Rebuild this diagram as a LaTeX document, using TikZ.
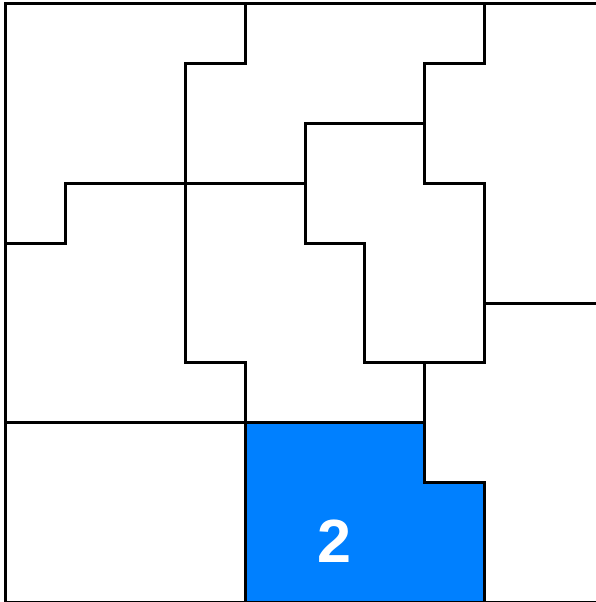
\documentclass[tikz,border=0pt]{standalone}
\usepackage{fontspec}
\setsansfont{Liberation Sans}
\definecolor{regionblue}{RGB}{0,128,255}
\begin{document}
\begin{tikzpicture}[x=59.8pt,y=-59.8pt,line width=3pt,line join=miter]
  \useasboundingbox (-0.1003,-0.0669) rectangle (9.866,10);
  \clip (-0.1003,-0.0669) rectangle (9.866,10);
  % highlighted region
  \fill[regionblue] (4,7) -- (7,7) -- (7,8) -- (8,8) -- (8,10) -- (4,10) -- cycle;
  % outer frame
  \draw (10,0) -- (0,0) -- (0,10) -- (10,10);
  % region borders
  \draw (4,0) -- (4,1) -- (3,1) -- (3,6) -- (4,6) -- (4,10);
  \draw (8,0) -- (8,1) -- (7,1) -- (7,3) -- (8,3) -- (8,6) -- (6,6) -- (6,4)
    -- (5,4) -- (5,2) -- (7,2);
  \draw (0,4) -- (1,4) -- (1,3) -- (5,3);
  \draw (8,5) -- (10,5);
  \draw (0,7) -- (7,7);
  \draw (7,6) -- (7,8) -- (8,8) -- (8,10);
  \node[white,font=\sffamily\bfseries\fontsize{61}{61}\selectfont] (num) at (5.49,8.99) {2};
\end{tikzpicture}
\end{document}
